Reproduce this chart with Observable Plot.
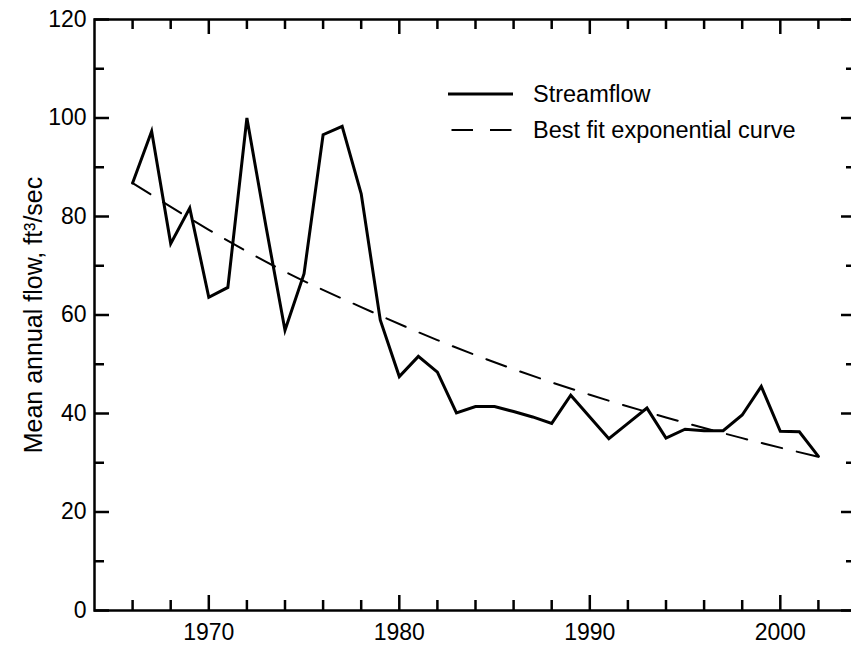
<!DOCTYPE html>
<html>
<head>
<meta charset="utf-8">
<script src="https://cdn.jsdelivr.net/npm/d3@7"></script>
<script src="https://cdn.jsdelivr.net/npm/@observablehq/plot@0.6"></script>
<style>
  html, body { margin: 0; padding: 0; background: white; overflow: hidden; }
  #chart svg { display: block; }
</style>
</head>
<body>
<div id="chart"></div>
<script>
// ---- data ----
const years = [1966, 1967, 1968, 1969, 1970, 1971, 1972, 1973, 1974, 1975, 1976, 1977, 1978, 1979,
  1980, 1981, 1982, 1983, 1984, 1985, 1986, 1987, 1988, 1989, 1990, 1991, 1992, 1993, 1994,
  1995, 1996, 1997, 1998, 1999, 2000, 2001, 2002];
const streamflow = [86.8, 97.3, 74.5, 81.7, 63.6, 65.6, 100.0, 78.0, 56.9, 68.4, 96.6, 98.3, 84.6, 59.0,
  47.5, 51.6, 48.4, 40.1, 41.4, 41.4, 40.4, 39.3, 38.0, 43.7, 39.3, 34.9, 38.0, 41.1, 35.0,
  36.8, 36.5, 36.5, 39.7, 45.5, 36.4, 36.3, 31.3];
const fitYears = [1966, 1970, 1974, 1978, 1982, 1986, 1990, 1994, 1998, 2002];
const fitValues = [86.8, 77.3, 68.8, 61.6, 54.9, 49.0, 43.8, 39.2, 35.0, 31.2];

const xLabelTicks = [1970, 1980, 1990, 2000];
const xMinorTicks = [1966, 1968, 1972, 1974, 1976, 1978, 1982, 1984, 1986, 1988, 1992, 1994, 1996, 1998, 2002];
const yLabelTicks = [0, 20, 40, 60, 80, 100, 120];
const yMinorTicks = [10, 30, 50, 70, 90, 110];

const legendLabels = ["Streamflow", "Best fit exponential curve"];
const yTitle = "Mean annual flow, ft\u00B3/sec";

// ---- layout ----
const W = 851, H = 649;
const mL = 94, mR = -5, mT = 19, mB = 39;
const frameH = H - mT - mB;
const frameW = W - mL - mR;
const majorLen = 15, minorLen = 10, tickW = 2.5;

const flowData = years.map((y, i) => ({year: y, value: streamflow[i]}));
const fitData = fitYears.map((y, i) => ({year: y, value: fitValues[i]}));

const chart = Plot.plot({
  width: W,
  height: H,
  marginLeft: mL,
  marginRight: mR,
  marginTop: mT,
  marginBottom: mB,
  style: {fontFamily: "'Liberation Sans', Arial, sans-serif", fontSize: "23px", background: "white", color: "black"},
  x: {domain: [1964, 2004]},
  y: {domain: [0, 120]},
  marks: [
    // ticks (inward) on four sides
    Plot.ruleX(xLabelTicks, {insetTop: frameH - majorLen, stroke: "black", strokeWidth: tickW}),
    Plot.ruleX(xMinorTicks, {insetTop: frameH - minorLen, stroke: "black", strokeWidth: tickW}),
    Plot.ruleX(xLabelTicks, {insetBottom: frameH - majorLen, stroke: "black", strokeWidth: tickW}),
    Plot.ruleX(xMinorTicks, {insetBottom: frameH - minorLen, stroke: "black", strokeWidth: tickW}),
    Plot.ruleY(yLabelTicks, {insetRight: frameW - majorLen, stroke: "black", strokeWidth: tickW}),
    Plot.ruleY(yMinorTicks, {insetRight: frameW - minorLen, stroke: "black", strokeWidth: tickW}),
    Plot.ruleY(yLabelTicks, {insetLeft: frameW - majorLen, stroke: "black", strokeWidth: tickW}),
    Plot.ruleY(yMinorTicks, {insetLeft: frameW - minorLen, stroke: "black", strokeWidth: tickW}),
    Plot.frame({stroke: "black", strokeWidth: 2.5}),
    Plot.axisX({ticks: xLabelTicks, tickSize: 0, tickPadding: 13, tickFormat: d => String(d), label: null, fontSize: 23}),
    Plot.axisY({ticks: yLabelTicks, tickSize: 0, tickPadding: 8, label: null, fontSize: 23}),
    Plot.text([yTitle], {text: d => d, frameAnchor: "left", dx: -61, rotate: -90, textAnchor: "middle", fontSize: 25, fill: "black"}),
    Plot.line(fitData, {x: "year", y: "value", curve: "monotone-x", stroke: "black", strokeWidth: 2, strokeDasharray: "21,15"}),
    Plot.line(flowData, {x: "year", y: "value", stroke: "black", strokeWidth: 3, strokeLinejoin: "miter", strokeMiterlimit: 4})
  ]
});

// legend inside the plot area
const svg = d3.select(chart);
const lg = svg.append("g")
  .attr("font-family", "'Liberation Sans', Arial, sans-serif")
  .attr("font-size", 23.5)
  .attr("text-anchor", "start");
lg.append("line").attr("x1", 448).attr("x2", 513).attr("y1", 94).attr("y2", 94)
  .attr("stroke", "black").attr("stroke-width", 3);
lg.append("line").attr("x1", 451.5).attr("x2", 512).attr("y1", 130).attr("y2", 130)
  .attr("stroke", "black").attr("stroke-width", 2).attr("stroke-dasharray", "21.5,17");
lg.append("text").attr("x", 533).attr("y", 94).attr("dy", "0.35em").attr("text-anchor", "start").text(legendLabels[0]);
lg.append("text").attr("x", 533).attr("y", 130).attr("dy", "0.35em").attr("text-anchor", "start").text(legendLabels[1]);

document.getElementById("chart").appendChild(chart);
</script>
</body>
</html>
